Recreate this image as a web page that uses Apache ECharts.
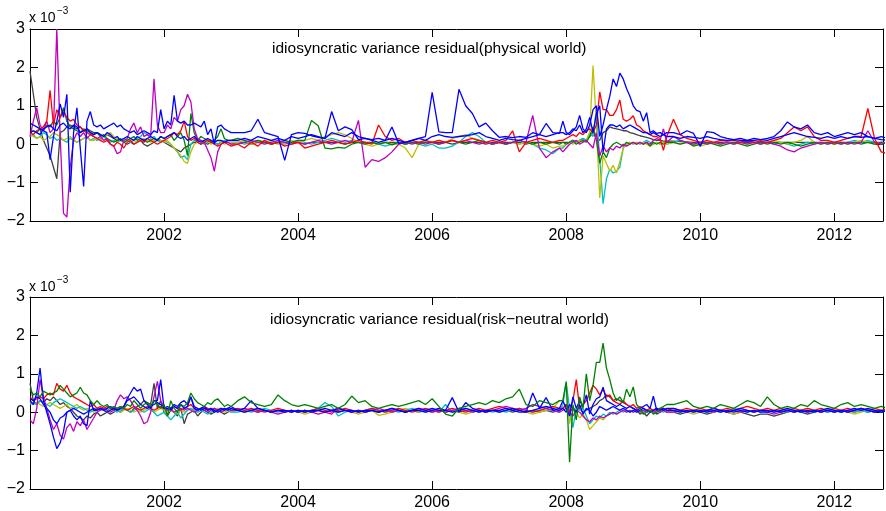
<!DOCTYPE html>
<html>
<head>
<meta charset="utf-8">
<script src="https://cdn.jsdelivr.net/npm/echarts/dist/echarts.min.js"></script>
<style>
html,body{margin:0;padding:0;background:#fff;}
#chart{width:886px;height:511px;}
</style>
</head>
<body>
<div id="chart"></div>
<script>
// ---------- time grid (decimal years) ----------
const T = [
2000,2000.05,2000.1,2000.15,2000.2,2000.25,2000.3,2000.35,2000.4,2000.45,2000.5,2000.55,2000.6,2000.65,2000.7,2000.75,2000.8,2000.85,2000.9,2000.95,
2001,2001.05,2001.1,2001.15,2001.2,2001.25,2001.3,2001.35,2001.4,2001.45,2001.5,2001.55,2001.6,2001.65,2001.7,2001.75,2001.8,2001.85,2001.9,2001.95,
2002,2002.05,2002.1,2002.15,2002.2,2002.25,2002.3,2002.35,2002.4,2002.45,2002.5,2002.55,2002.6,2002.65,2002.7,2002.75,2002.8,2002.85,2002.9,2002.95,
2003,
2003.1,2003.2,2003.3,2003.4,2003.5,2003.6,2003.7,2003.8,2003.9,
2004,2004.1,2004.2,2004.3,2004.4,2004.5,2004.6,2004.7,2004.8,2004.9,
2005,2005.1,2005.2,2005.3,2005.4,2005.5,2005.6,2005.7,2005.8,2005.9,
2006,2006.1,2006.2,2006.3,2006.4,2006.5,2006.6,2006.7,2006.8,2006.9,
2007,2007.1,2007.2,2007.3,2007.4,2007.5,2007.6,2007.7,2007.8,2007.9,
2007.95,
2008,2008.05,2008.1,2008.15,2008.2,2008.25,2008.3,2008.35,2008.4,2008.45,2008.5,2008.55,2008.6,2008.65,2008.7,2008.75,2008.8,2008.85,2008.9,2008.95,
2009,2009.05,2009.1,2009.15,2009.2,2009.25,2009.3,2009.35,2009.4,2009.45,2009.5,
2009.6,2009.7,2009.8,2009.9,
2010,2010.1,2010.2,2010.3,2010.4,2010.5,2010.6,2010.7,2010.8,2010.9,
2011,2011.1,2011.2,2011.3,2011.4,2011.5,2011.6,2011.7,2011.8,2011.9,
2012,2012.1,2012.2,2012.3,2012.4,2012.5,2012.6,2012.7,2012.8
];

const X_TICKS = [2002, 2004, 2006, 2008, 2010, 2012];
const Y_TICKS = [-2, -1, 0, 1, 2, 3];
const TITLE1 = 'idiosyncratic variance residual(physical world)';
const TITLE2 = 'idiosyncratic variance residual(risk\u2212neutral world)';
const SCALE_LABEL = 'x 10';
const SCALE_EXP = '\u22123';

// ---------- panel 1 : physical world (units of 1e-3) ----------
const P1_blue1 = [
0.55,0.5,0.45,0.4,0.35,0.3,-0.4,0.2,0.6,1.05,0.7,1.3,-1.25,0.3,0.95,-0.1,-1.1,0.6,0.85,0.5,
0.45,0.5,0.4,0.45,0.5,0.55,0.45,0.5,0.4,0.35,0.3,0.35,0.25,0.3,0.35,0.3,0.25,0.35,0.3,0.9,
0.4,0.6,0.5,1.27,0.6,0.55,0.6,0.5,0.5,0.55,0.5,0.45,0.6,0.25,0.4,0.0,0.45,0.5,0.4,0.35,
0.3,
0.3,0.3,0.35,0.65,0.3,0.25,0.2,-0.42,0.25,
0.3,0.28,0.22,0.18,0.15,0.85,0.35,0.45,0.38,0.12,
0.15,0.12,0.15,0.1,0.45,0.02,0.05,0.1,0.15,0.2,
1.35,0.32,0.3,0.3,1.43,1.0,0.8,0.45,0.55,0.35,
0.18,0.2,0.17,0.2,0.18,0.3,0.25,0.54,0.3,0.28,
0.6,
0.3,0.25,0.35,0.45,0.75,0.4,0.3,0.5,0.9,1.0,0.2,0.5,0.9,1.25,1.7,1.5,1.85,1.7,1.45,1.25,
1.0,0.88,0.85,0.6,0.82,0.3,0.35,0.28,0.3,0.25,0.3,
0.3,0.25,0.35,0.28,
-0.05,0.33,0.3,0.2,0.15,0.12,0.15,0.1,0.15,0.12,
0.15,0.2,0.35,0.58,0.45,0.4,0.5,0.3,0.25,0.3,
0.2,0.25,0.3,0.25,0.3,0.2,0.15,0.2,0.15
];
const P1_blue2 = [
0.3,0.35,0.3,0.25,0.4,0.45,0.5,0.4,0.35,0.5,0.55,0.45,0.4,0.5,0.45,0.3,0.35,0.4,0.3,0.25,
0.3,0.25,0.2,0.3,0.25,0.15,0.2,0.1,0.15,0.2,0.15,0.1,0.2,0.15,0.1,0.15,0.2,0.15,0.1,0.2,
0.15,0.2,0.25,0.3,0.2,0.15,0.2,0.1,0.15,0.2,0.1,0.05,0.1,0.15,0.1,0.05,0.1,0.1,0.05,0.1,
0.1,
0.1,0.15,0.1,0.2,0.15,0.1,0.15,0.1,0.2,
0.15,0.2,0.25,0.2,0.15,0.3,0.25,0.2,0.3,0.2,
0.15,0.1,0.05,0.1,0.15,0.1,0.05,0.1,0.15,0.1,
0.2,0.25,0.2,0.18,0.2,0.22,0.25,0.3,0.2,0.15,
0.1,0.15,0.12,0.1,0.15,0.2,0.25,0.2,0.25,0.3,
0.3,
0.25,0.3,0.4,0.35,0.5,0.3,0.4,0.7,0.3,0.8,1.0,-0.2,0.4,0.5,0.5,0.45,0.5,0.4,0.45,0.5,
0.45,0.4,0.35,0.3,0.3,0.25,0.3,0.25,0.2,0.25,0.2,
0.2,0.15,0.2,0.18,
0.15,0.2,0.15,0.12,0.1,0.12,0.1,0.08,0.1,0.12,
0.1,0.15,0.2,0.25,0.3,0.25,0.2,0.18,0.15,0.2,
0.15,0.2,0.15,0.2,0.18,0.2,0.15,0.12,0.1
];
const P1_red = [
0.3,0.25,0.35,0.4,0.45,0.6,1.4,0.5,0.9,0.7,0.85,0.7,0.6,0.65,0.5,0.45,0.35,0.3,0.25,0.2,
0.15,0.1,0.05,0.1,0.0,-0.05,0.05,0.0,-0.1,0.05,0.1,0.0,0.05,0.1,0.05,0.15,0.1,0.05,0.0,0.05,
0.1,0.15,0.2,0.3,0.25,0.35,0.6,0.2,0.1,0.15,0.05,0.0,0.05,0.1,0.05,0.0,-0.05,0.0,0.05,0.0,
-0.05,
0.0,-0.1,0.05,-0.05,0.1,0.0,0.05,-0.05,0.0,
0.05,-0.1,-0.05,0.0,0.05,0.1,0.05,0.0,0.05,0.1,
0.05,0.0,0.5,0.2,0.1,0.15,0.05,0.1,0.05,0.1,
0.05,0.1,0.05,0.1,0.05,0.1,0.15,0.1,0.05,0.1,
0.05,0.1,0.35,-0.2,0.05,0.1,0.15,0.1,0.05,0.1,
0.1,
0.15,0.2,0.25,0.2,0.3,0.25,0.35,0.4,0.3,0.5,1.36,0.9,0.9,0.75,0.75,0.9,1.15,0.65,0.6,0.65,
0.74,0.5,0.45,0.35,0.3,0.25,0.2,0.2,0.15,-0.16,0.2,
0.65,0.25,0.15,0.1,
0.05,0.1,0.05,0.1,0.08,0.1,0.05,0.1,0.05,0.08,
0.05,0.1,0.15,0.3,0.45,0.35,0.45,0.2,0.1,0.1,
0.05,0.1,0.15,0.2,0.2,0.93,0.15,-0.2,-0.25
];
const P1_green = [
0.3,0.35,0.3,0.4,0.35,0.5,0.45,0.6,0.5,0.7,0.95,0.6,0.45,0.4,0.35,0.3,0.4,0.35,0.3,0.25,
0.3,0.2,0.25,0.15,0.1,0.05,0.1,0.15,0.05,0.1,0.15,0.2,0.1,0.15,0.1,0.05,0.1,0.15,0.1,0.2,
0.15,0.2,0.25,0.1,0.2,0.3,0.1,-0.3,0.8,0.3,0.1,0.2,0.15,0.1,0.05,0.1,0.2,0.4,0.15,0.1,
0.1,
0.15,0.1,0.05,0.1,0.05,0.0,0.05,0.1,0.05,
0.1,0.1,0.62,0.48,-0.1,-0.12,-0.08,-0.1,0.0,0.05,
0.0,0.05,0.0,0.05,-0.02,0.05,0.0,0.05,0.0,0.05,
0.05,0.0,0.05,0.1,0.05,0.0,0.05,0.1,0.05,0.0,
0.05,0.0,0.05,0.1,0.05,0.0,0.05,0.0,0.05,0.0,
0.05,
0.0,0.05,0.1,0.0,0.05,0.1,0.05,0.2,0.45,0.1,-0.5,-0.2,-0.35,-0.1,0.0,0.05,0.0,-0.05,0.05,0.0,
0.05,0.0,0.05,0.0,0.05,-0.05,0.05,0.0,0.05,0.0,0.05,
0.05,0.0,0.05,-0.05,
0.0,0.05,0.0,-0.05,0.0,0.05,0.0,-0.05,0.0,0.05,
0.0,0.05,0.0,0.05,0.0,-0.05,0.0,0.05,0.0,0.05,
0.0,0.05,0.0,0.05,0.0,0.05,0.0,0.05,0.0
];
const P1_cyan = [
0.2,0.25,0.15,0.2,0.3,0.25,0.15,0.2,0.1,0.15,0.1,0.05,0.15,0.1,0.05,0.1,0.15,0.2,0.1,0.15,
0.1,0.15,0.2,0.1,0.05,0.1,0.05,0.1,0.15,0.1,0.05,0.1,0.15,0.2,0.3,0.25,0.15,0.2,0.1,0.05,
0.1,0.05,0.0,-0.1,-0.2,-0.35,-0.3,-0.4,0.0,0.1,0.05,0.1,0.0,0.05,0.1,0.05,0.0,0.05,0.1,0.05,
0.0,
0.05,0.0,0.05,0.1,0.05,0.1,0.05,0.0,0.05,
0.1,0.05,0.0,0.05,0.1,0.15,0.1,0.05,0.1,0.05,
0.0,0.05,0.0,-0.05,0.0,0.05,0.0,0.05,0.0,-0.05,
0.0,-0.1,-0.1,-0.05,0.05,0.2,0.3,0.2,0.05,0.0,
0.05,0.0,0.05,0.0,0.05,0.0,-0.1,-0.15,-0.25,-0.1,
-0.1,
0.0,0.05,0.1,0.05,0.1,0.15,0.1,0.3,0.2,0.9,-0.4,-1.55,-0.9,-0.65,-0.75,-0.7,-0.6,-0.1,0.0,0.05,
0.0,0.05,0.0,0.05,0.1,0.05,0.0,0.05,0.0,0.05,0.0,
0.05,0.1,0.05,0.0,
0.05,0.0,0.05,0.0,0.05,0.0,0.05,0.1,0.05,0.0,
0.05,0.0,0.05,0.0,-0.05,0.0,0.05,0.0,0.05,0.0,
0.05,0.0,0.05,0.1,0.05,0.1,0.05,0.0,0.05
];
const P1_magenta = [
0.2,0.6,0.95,0.5,0.35,0.6,0.3,0.4,3.0,0.2,-1.8,-1.9,-0.6,0.1,0.3,0.2,0.3,0.15,0.25,0.2,
0.15,0.2,0.1,0.15,0.0,-0.05,-0.25,-0.2,0.1,0.15,0.4,0.55,0.3,0.45,0.2,0.25,0.2,1.7,0.5,0.3,
0.3,0.5,0.4,0.7,0.6,0.9,1.0,1.3,1.1,0.4,0.15,0.1,0.05,-0.15,-0.35,-0.7,-0.2,0.0,0.05,0.05,
0.0,
0.0,0.05,0.1,0.05,0.0,0.05,0.1,0.05,0.0,
0.05,0.0,0.05,0.1,0.05,0.0,0.05,0.1,0.05,0.62,
-0.6,-0.4,-0.45,-0.35,-0.2,0.0,0.05,0.0,0.05,0.0,
0.05,0.0,0.05,0.1,0.05,0.1,0.05,0.0,0.05,0.0,
0.05,0.0,0.05,0.1,0.05,0.75,-0.1,-0.35,-0.2,-0.1,
-0.2,
-0.1,0.0,0.05,0.1,0.0,0.05,0.1,0.0,-0.1,0.3,-0.3,-0.05,-0.2,-0.1,-0.15,-0.05,-0.1,0.0,-0.05,0.0,
0.05,0.0,0.05,0.0,0.05,0.0,0.1,0.15,0.1,0.4,0.05,
0.2,0.1,0.05,0.0,
0.05,0.0,0.05,0.0,0.05,0.0,0.05,0.0,0.05,0.0,
0.05,0.0,-0.05,-0.15,-0.2,-0.1,-0.05,0.0,0.05,0.0,
0.05,0.0,0.05,0.0,0.05,0.35,0.05,0.0,0.05
];
const P1_yellow = [
0.25,0.2,0.15,0.2,0.1,0.15,0.2,0.3,0.25,0.2,0.1,0.15,0.2,0.1,0.05,0.1,0.15,0.2,0.1,0.1,
0.15,0.1,0.2,0.25,0.3,0.2,0.15,0.1,0.05,0.1,0.15,0.1,0.05,0.1,0.15,0.1,0.05,0.1,0.15,0.1,
0.05,0.1,0.0,-0.1,-0.2,-0.3,-0.45,-0.5,-0.2,0.0,0.05,0.1,0.05,0.1,0.0,0.05,0.1,0.05,0.0,0.05,
0.05,
0.05,0.1,0.0,0.05,0.1,0.05,0.0,0.05,0.1,
0.05,0.1,0.15,0.1,0.2,0.25,0.3,0.25,0.15,0.05,
0.0,-0.05,0.0,0.05,0.0,0.0,-0.1,-0.35,0.0,0.05,
0.05,0.1,0.05,0.15,0.2,0.25,0.15,0.1,0.05,0.0,
0.05,0.0,0.05,0.0,0.05,0.0,-0.05,0.0,-0.1,-0.05,
-0.05,
0.0,0.05,0.0,0.05,0.1,0.05,0.1,0.3,2.05,0.5,-1.4,-0.3,-0.5,-0.7,-0.55,-0.75,-0.45,-0.1,0.0,0.05,
0.0,0.05,0.0,0.05,0.0,-0.05,0.0,0.05,0.0,0.05,0.0,
0.05,0.0,0.05,0.0,
-0.05,0.0,0.05,0.0,0.05,0.0,0.05,0.0,0.05,0.0,
0.05,0.1,0.05,0.0,0.05,0.1,0.2,0.05,0.0,0.05,
0.0,0.05,0.0,0.05,0.1,0.05,0.0,0.05,0.0
];
const P1_black = [
1.9,1.3,0.7,0.4,0.1,-0.1,-0.3,-0.6,-0.9,0.3,0.35,0.45,0.5,0.45,0.4,0.45,0.35,0.4,0.35,0.3,
0.3,0.25,0.2,0.25,0.2,0.15,0.1,0.1,0.05,0.0,0.05,0.0,0.05,0.1,0.0,-0.05,0.0,0.05,0.1,0.1,
0.05,0.0,-0.05,-0.1,-0.15,-0.2,-0.1,-0.05,0.0,0.05,0.05,0.0,0.05,0.0,0.05,0.05,0.0,0.05,0.05,0.05,
0.05,
0.05,0.05,0.0,0.05,0.05,0.0,0.05,0.05,0.05,
0.05,0.0,0.05,0.05,0.05,0.05,0.05,0.0,0.05,0.05,
0.05,0.05,0.0,0.05,0.05,0.05,0.0,0.05,0.05,0.05,
0.05,0.05,0.05,0.0,0.05,0.05,0.05,0.05,0.0,0.05,
0.05,0.05,0.05,0.05,0.0,0.05,0.05,0.05,0.05,0.05,
0.05,
0.05,0.05,0.1,0.05,0.1,0.15,0.1,0.2,0.3,0.15,0.1,0.3,0.35,0.45,0.42,0.4,0.38,0.35,0.35,0.3,
0.28,0.25,0.22,0.2,0.18,0.15,0.12,0.1,0.1,0.08,0.08,
0.08,0.07,0.06,0.05,
0.05,0.05,0.04,0.05,0.05,0.04,0.05,0.05,0.05,0.05,
0.05,0.05,0.05,0.05,0.05,0.05,0.05,0.05,0.05,0.05,
0.05,0.05,0.05,0.05,0.05,0.05,0.05,0.05,0.05
];

// ---------- panel 2 : risk-neutral world (units of 1e-3) ----------
const P2_blue1 = [
0.3,0.2,0.5,1.15,0.3,0.0,-0.3,-0.65,-0.95,-0.8,-0.5,0.0,0.05,-0.1,-0.2,-0.1,-0.3,-0.35,0.3,0.05,
0.05,0.1,0.05,0.0,0.05,0.1,0.05,0.1,0.15,0.35,0.5,0.65,0.55,0.6,0.3,0.2,0.1,0.3,0.3,0.85,
0.1,0.1,0.05,0.15,0.1,0.2,0.1,0.15,0.4,0.1,0.05,0.1,0.15,0.05,0.1,0.0,0.05,0.1,0.05,0.1,
0.15,
0.05,0.1,0.3,0.1,0.05,0.0,0.05,0.0,0.05,
0.0,0.05,0.0,0.05,0.0,0.05,0.1,0.05,0.0,0.05,
0.0,0.05,0.0,0.05,0.1,0.05,0.0,0.05,0.1,0.05,
0.1,0.05,0.05,0.38,0.0,0.25,0.1,0.05,0.0,0.05,
0.05,0.1,0.05,0.0,0.0,0.5,0.1,0.38,0.05,0.1,
0.3,
0.1,-0.1,0.4,0.1,0.3,0.15,0.45,-0.05,0.2,0.35,0.4,0.65,0.3,0.25,0.2,0.15,0.2,0.15,0.1,0.15,
0.1,0.05,0.1,0.15,0.2,0.1,0.42,0.05,0.1,0.05,0.1,
0.1,0.05,0.0,0.05,
0.0,0.05,0.1,0.05,0.0,0.05,0.1,0.05,0.0,0.05,
0.05,0.0,0.05,0.1,0.05,0.0,0.05,0.0,0.05,0.1,
0.05,0.0,0.05,0.1,0.05,0.1,0.05,0.0,0.05
];
const P2_blue2 = [
0.35,0.3,0.4,0.35,0.2,0.1,0.0,-0.2,-0.3,-0.15,-0.1,0.0,0.05,0.1,0.05,0.0,-0.05,0.0,0.05,0.1,
0.05,0.1,0.05,0.1,0.15,0.1,0.05,0.1,0.15,0.3,0.35,0.4,0.3,0.2,0.15,0.1,0.15,0.2,0.25,0.2,
0.1,0.15,0.1,0.2,0.15,0.25,0.3,0.2,0.4,0.15,0.1,0.05,0.1,0.05,0.1,0.05,0.0,0.05,0.1,0.05,
0.1,
0.05,0.0,0.05,0.1,0.05,0.0,0.05,0.05,0.0,
0.05,0.0,0.05,0.05,0.1,0.05,0.0,0.05,0.05,0.0,
0.05,0.05,0.0,0.05,0.1,0.05,0.0,0.05,0.05,0.0,
0.05,0.1,0.05,0.0,0.05,0.1,0.05,0.0,0.05,0.05,
0.0,0.05,0.1,0.05,0.0,0.05,0.1,0.15,0.1,0.05,
0.1,
0.0,0.2,0.1,0.0,0.2,-0.05,0.1,0.05,-0.1,0.0,0.15,0.1,0.05,0.1,0.15,0.1,0.05,0.1,0.05,0.0,
0.05,0.0,0.05,0.1,0.05,0.0,0.05,0.1,0.05,0.1,0.05,
0.05,0.0,0.05,0.0,
0.05,0.0,0.05,0.0,0.05,0.0,0.05,0.0,0.05,0.0,
0.0,0.05,0.0,0.05,0.0,0.05,0.0,0.05,0.0,0.05,
0.0,0.05,0.0,0.05,0.1,0.05,0.0,0.05,0.0
];
const P2_red = [
0.4,0.3,0.35,0.4,0.35,0.45,0.5,0.45,0.75,0.6,0.55,0.7,0.5,0.4,0.35,0.3,0.25,0.2,0.15,0.2,
0.1,0.15,0.1,0.15,0.1,0.05,0.1,0.15,0.1,0.05,0.1,0.15,0.1,0.05,0.1,0.15,0.1,0.05,0.1,0.15,
0.1,0.05,0.1,0.15,0.1,0.05,0.1,0.15,0.2,0.1,0.05,0.1,0.15,0.1,0.05,0.1,0.05,0.1,0.05,0.1,
0.05,
0.1,0.05,0.1,0.05,0.0,0.05,0.1,0.05,0.0,
0.05,0.0,0.05,0.1,0.05,0.0,0.05,0.1,0.05,0.0,
0.05,0.1,0.05,0.0,0.05,0.1,0.05,0.0,0.05,0.1,
0.05,0.0,0.05,0.1,0.05,0.0,0.05,0.1,0.05,0.1,
0.15,0.1,0.05,0.1,0.05,0.0,0.05,0.1,0.15,0.1,
0.1,
0.2,0.0,0.3,0.85,0.1,0.2,0.3,0.5,0.7,0.6,0.45,0.6,0.4,0.45,0.3,0.25,0.2,0.3,0.2,0.15,
0.2,0.1,0.15,0.1,0.05,0.1,0.05,0.1,0.05,0.1,0.05,
0.1,0.05,0.1,0.05,
0.1,0.05,0.1,0.05,0.1,0.05,0.1,0.15,0.1,0.05,
0.1,0.05,0.1,0.05,0.1,0.05,0.1,0.05,0.1,0.05,
0.1,0.05,0.1,0.05,0.1,0.05,0.1,0.05,0.1
];
const P2_green = [
0.6,0.45,0.5,0.4,0.55,0.5,0.45,0.5,0.55,0.7,0.6,0.5,0.4,0.45,0.5,0.65,0.5,0.45,0.3,0.2,
0.3,0.2,0.15,0.2,0.1,0.15,0.1,0.15,0.1,0.2,0.15,0.3,0.2,0.1,0.2,0.25,0.15,0.3,0.2,0.1,
0.2,-0.1,0.3,0.1,0.0,0.2,0.15,0.25,0.5,0.35,0.25,0.2,0.15,0.25,0.2,0.3,0.35,0.25,0.15,0.2,
0.15,
0.3,0.4,0.25,0.2,0.15,0.2,0.45,0.3,0.2,
0.15,0.2,0.15,0.1,0.15,0.2,0.1,0.2,0.42,0.25,
0.3,0.15,0.1,0.15,0.2,0.15,0.2,0.25,0.3,0.2,
0.35,0.15,-0.05,-0.1,0.1,0.15,0.2,0.25,0.2,0.3,
0.25,0.35,0.4,0.6,0.2,0.15,0.3,0.25,0.2,0.3,
0.3,
0.8,-1.3,0.2,-0.2,0.4,0.1,1.0,0.3,0.7,1.3,1.3,1.8,1.15,0.85,0.5,0.3,0.4,0.25,0.6,0.4,
0.66,0.2,0.1,-0.05,0.0,0.05,-0.05,0.0,0.1,0.15,0.2,
0.2,0.25,0.3,0.15,
0.1,0.15,0.1,0.2,0.15,0.1,0.2,0.3,0.25,0.15,
0.4,0.2,0.1,0.15,0.1,0.2,0.15,0.3,0.2,0.15,
0.1,0.2,0.25,0.15,0.2,0.15,0.1,0.15,0.1
];
const P2_magenta = [
-0.2,-0.3,0.1,0.85,0.4,0.1,-0.2,-0.45,-0.3,-0.6,-0.7,-0.4,-0.3,-0.5,-0.25,-0.35,-0.2,-0.45,-0.3,-0.15,
0.0,0.05,0.1,0.05,0.0,0.05,0.3,0.45,0.35,0.4,0.3,0.15,0.05,-0.1,-0.3,-0.25,0.0,0.4,0.8,0.3,
0.1,0.05,0.1,0.0,0.05,0.1,0.05,0.1,0.05,0.0,0.05,0.1,0.05,0.0,0.05,0.1,0.05,0.0,0.05,0.1,
0.05,
0.05,0.1,0.05,0.0,0.05,0.0,-0.05,0.0,0.05,
0.0,0.05,0.0,-0.05,0.0,-0.05,0.1,0.05,0.0,0.05,
0.0,0.05,0.1,0.05,0.0,0.05,0.0,0.05,0.1,0.05,
0.0,0.05,0.0,0.05,0.1,0.05,0.0,0.05,0.0,0.05,
0.1,0.15,0.1,0.05,0.1,0.2,0.15,0.1,0.05,0.0,
0.05,
0.1,0.0,-0.1,0.05,0.0,-0.1,-0.2,-0.25,-0.15,-0.2,-0.1,-0.15,-0.1,-0.05,0.0,-0.05,0.0,0.05,0.0,0.05,
0.0,0.05,0.0,0.05,0.0,0.05,0.0,0.05,0.0,0.05,0.0,
0.0,0.05,0.0,0.05,
0.0,0.05,0.0,0.05,0.0,0.05,0.0,0.05,0.0,0.05,
0.0,-0.05,0.0,0.05,0.0,0.05,0.0,0.05,0.0,0.05,
0.0,0.05,0.0,0.05,0.1,0.05,0.0,0.05,0.0
];
const P2_cyan = [
0.2,0.25,0.2,0.3,0.25,0.2,0.15,0.25,0.3,0.35,0.3,0.25,0.2,0.15,0.1,0.15,0.1,0.05,0.0,0.05,
0.1,0.05,0.1,0.05,0.1,0.05,0.0,0.05,0.1,0.05,0.0,0.05,0.1,0.05,0.0,0.05,0.1,0.0,-0.1,-0.05,
0.0,-0.1,-0.2,-0.1,0.0,-0.15,-0.05,0.05,0.1,0.05,0.0,0.05,0.0,-0.05,0.0,0.05,0.0,0.05,0.1,0.05,
0.0,
0.0,0.05,0.0,0.05,0.1,0.05,0.0,0.05,0.0,
0.05,0.0,0.05,0.1,0.25,0.15,-0.1,0.0,0.05,0.0,
0.05,0.1,0.05,0.0,0.05,0.0,0.05,0.1,0.05,0.0,
0.05,0.0,0.2,0.0,0.05,0.1,0.05,0.0,0.05,0.0,
0.05,0.0,0.05,0.1,0.05,0.0,0.05,0.1,0.05,0.0,
0.2,
0.75,0.1,-0.4,0.1,0.05,0.1,-0.1,-0.3,-0.2,-0.1,-0.15,-0.05,-0.1,0.0,-0.05,0.0,0.05,0.0,0.05,0.0,
0.05,0.0,0.05,0.0,0.05,0.0,0.05,0.0,0.05,0.0,0.05,
0.05,0.0,0.05,0.0,
0.05,0.0,0.05,0.0,0.05,0.1,0.05,0.0,0.05,0.0,
0.05,0.0,0.05,0.0,0.05,0.0,0.05,0.0,0.05,0.0,
0.05,0.0,0.05,0.0,0.05,0.0,0.05,0.0,0.05
];
const P2_yellow = [
0.25,0.2,0.25,0.2,0.15,0.2,0.25,0.2,0.15,0.1,0.15,0.2,0.1,0.15,0.2,0.1,0.05,0.1,0.05,0.0,
0.05,0.1,0.05,0.0,0.05,0.1,0.05,0.0,0.05,0.1,0.05,0.0,0.05,0.0,0.05,0.1,0.05,0.0,0.05,0.1,
0.05,0.0,0.05,0.0,-0.05,0.05,0.0,0.05,0.1,0.05,0.0,0.05,0.1,0.05,0.0,0.05,0.1,0.05,0.0,0.05,
0.0,
0.05,0.0,0.05,0.1,0.05,0.0,0.05,0.0,0.05,
0.0,-0.05,0.0,0.05,0.0,0.05,0.1,0.05,0.0,-0.05,
0.0,0.05,-0.08,-0.05,0.0,0.05,0.1,0.05,0.0,0.05,
0.0,0.05,0.0,0.05,0.0,-0.05,0.0,0.05,0.0,0.05,
0.0,0.05,0.1,0.05,0.0,-0.05,0.0,0.05,0.1,0.3,
0.3,
0.75,-0.3,0.1,0.0,-0.15,-0.05,-0.2,-0.45,-0.35,-0.25,-0.15,-0.2,-0.1,-0.05,0.0,-0.05,0.0,0.05,0.0,0.05,
0.0,0.05,0.0,0.05,0.0,0.05,0.0,0.05,0.0,0.05,0.0,
0.0,0.05,0.0,-0.05,
0.0,0.05,0.0,0.05,0.0,-0.05,0.0,0.05,0.0,0.05,
0.0,0.05,0.0,0.05,0.0,0.05,0.1,0.05,0.0,0.05,
0.0,0.05,0.0,-0.05,0.0,0.05,0.0,0.05,0.0
];
const P2_black = [
0.75,0.3,0.2,0.3,0.25,0.35,0.3,0.4,0.3,0.2,0.25,0.15,0.1,0.0,-0.1,-0.15,-0.2,-0.1,-0.15,-0.05,
0.0,-0.1,-0.05,0.0,-0.05,0.0,0.05,0.0,0.1,0.05,0.0,0.1,0.15,0.2,0.3,0.25,0.2,0.75,0.1,0.3,
0.0,-0.1,0.05,0.0,-0.1,0.1,-0.3,-0.05,0.0,0.05,-0.1,0.0,0.05,0.0,-0.05,0.0,0.05,0.0,-0.05,0.0,
0.05,
0.05,0.0,0.05,0.0,0.05,0.0,0.05,0.0,0.05,
0.0,0.05,0.0,0.05,0.0,0.05,0.0,0.05,0.0,0.05,
0.0,0.05,0.0,0.05,0.0,0.05,0.0,0.05,0.0,0.05,
0.0,0.05,0.0,0.05,0.0,0.05,0.0,0.05,0.0,0.05,
0.0,0.05,0.0,0.05,0.0,0.05,0.0,0.05,0.0,0.05,
0.1,
0.2,0.0,0.1,0.05,0.1,0.0,0.05,0.1,0.15,0.2,0.3,0.35,0.45,0.4,0.3,0.35,0.3,0.25,0.2,0.15,
0.1,0.05,-0.05,0.0,-0.1,0.0,0.05,-0.05,0.0,0.05,0.0,
0.0,-0.05,0.0,0.05,
0.0,-0.05,0.0,0.05,0.0,-0.05,0.0,-0.05,-0.1,-0.05,
-0.05,-0.1,-0.05,0.0,0.05,0.0,-0.05,0.0,0.05,0.0,
0.05,0.0,0.05,0.0,0.05,0.0,0.05,0.0,0.05
];

// ---------- styling ----------
const COLOR = {
  blue: '#0000ff', green: '#008000', red: '#ff0000', cyan: '#00bfbf',
  magenta: '#bf00bf', yellow: '#bfbf00', black: '#404040'
};
const FONT = '"Liberation Sans", Arial, Helvetica, sans-serif';
const X_MIN = 2000, X_MAX = 2012.726;

const PANEL1 = [
  ['black', P1_black], ['cyan', P1_cyan], ['yellow', P1_yellow], ['green', P1_green],
  ['magenta', P1_magenta], ['red', P1_red], ['blue', P1_blue2], ['blue', P1_blue1]
];
const PANEL2 = [
  ['black', P2_black], ['yellow', P2_yellow], ['cyan', P2_cyan], ['red', P2_red],
  ['magenta', P2_magenta], ['blue', P2_blue2], ['blue', P2_blue1], ['green', P2_green]
];

const bad = [];
[...PANEL1, ...PANEL2].forEach(([c, a], i) => { if (a.length !== T.length) bad.push(i + ':' + a.length); });

function xAxes(grid, pos, showLabel, margin) {
  return {
    gridIndex: grid, type: 'value', position: pos, min: X_MIN, max: X_MAX, interval: 2,
    axisLine: { show: true, onZero: false, lineStyle: { color: '#000', width: 1 } },
    axisTick: { show: true, inside: true, length: 8, lineStyle: { color: '#000', width: 1 } },
    splitLine: { show: false },
    axisLabel: {
      show: showLabel, margin: margin, fontSize: 16, color: '#000', fontFamily: FONT,
      formatter: v => (X_TICKS.indexOf(Math.round(v * 1000) / 1000) >= 0 ? String(v) : '')
    }
  };
}
function yAxes(grid, pos, showLabel) {
  return {
    gridIndex: grid, type: 'value', position: pos, min: -2, max: 3, interval: 1,
    axisLine: { show: true, onZero: false, lineStyle: { color: '#000', width: 1 } },
    axisTick: { show: true, inside: true, length: 8, lineStyle: { color: '#000', width: 1 } },
    splitLine: { show: false },
    axisLabel: {
      show: showLabel, margin: 5, fontSize: 16, color: '#000', fontFamily: FONT,
      formatter: v => (Y_TICKS.indexOf(v) >= 0 ? (v < 0 ? '\u2212' + Math.abs(v) : String(v)) : '')
    }
  };
}

function mkSeries(list, xi, yi) {
  return list.map(([c, arr]) => ({
    type: 'line', xAxisIndex: xi, yAxisIndex: yi, showSymbol: false, symbol: 'none',
    animation: false, silent: true, clip: true,
    lineStyle: { color: COLOR[c], width: 1.3 },
    data: T.map((t, i) => [t, arr[i]])
  }));
}

function scaleText(top) {
  return [
    { type: 'text', left: 29, top: top, style: { text: SCALE_LABEL, fontSize: 14, fontFamily: FONT, fill: '#000' } },
    { type: 'text', left: 57, top: top - 5, style: { text: SCALE_EXP, fontSize: 10, fontFamily: FONT, fill: '#000' } }
  ];
}

const graphic = [
  ...scaleText(11), ...scaleText(280),
  { type: 'text', left: 272, top: 41, style: { text: TITLE1, fontSize: 15.5, fontFamily: FONT, fill: '#000' } },
  { type: 'text', left: 270, top: 312, style: { text: TITLE2, fontSize: 15.5, fontFamily: FONT, fill: '#000' } }
];
if (bad.length) graphic.push({ type: 'text', left: 300, top: 250, style: { text: 'LEN ' + T.length + ' ' + bad.join(' '), fontSize: 12, fill: '#f00' } });

const chart = echarts.init(document.getElementById('chart'), null, { renderer: 'canvas' });
chart.setOption({
  animation: false,
  backgroundColor: '#fff',
  grid: [
    { left: 30, top: 29, width: 859, height: 192, containLabel: false },
    { left: 30, top: 297, width: 859, height: 193, containLabel: false }
  ],
  xAxis: [xAxes(0, 'bottom', true, 7), xAxes(0, 'top', false, 7), xAxes(1, 'bottom', true, 6), xAxes(1, 'top', false, 6)],
  yAxis: [yAxes(0, 'left', true), yAxes(0, 'right', false), yAxes(1, 'left', true), yAxes(1, 'right', false)],
  series: [...mkSeries(PANEL1, 0, 0), ...mkSeries(PANEL2, 2, 2)],
  graphic: graphic
});
</script>
</body>
</html>
